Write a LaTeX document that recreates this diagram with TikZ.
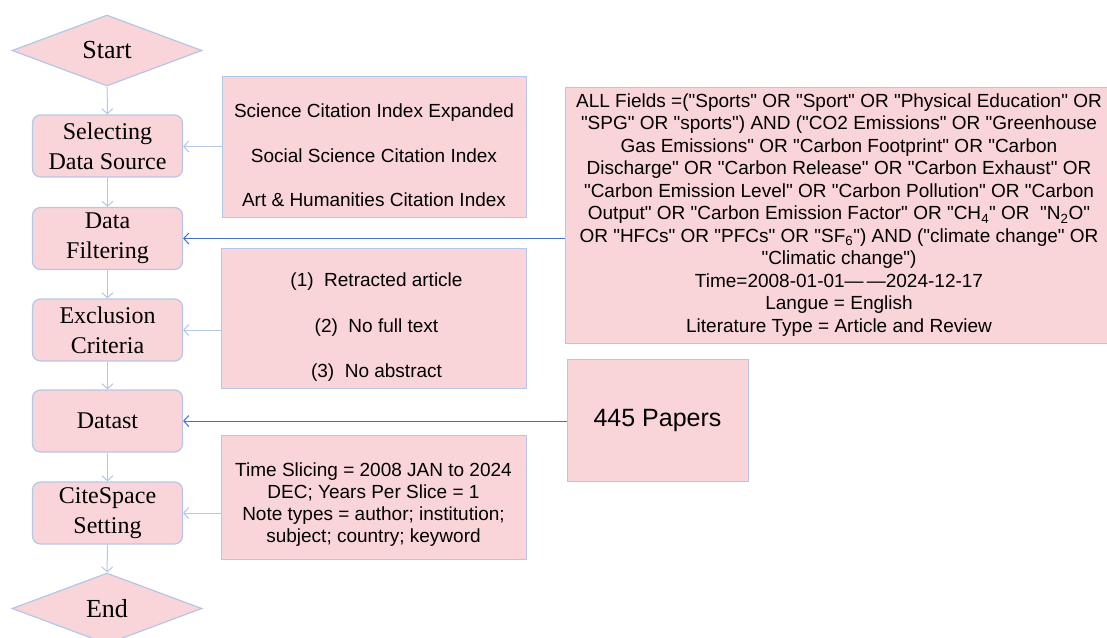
\documentclass[tikz,border=0pt]{standalone}
\usepackage{fontspec}
\setmainfont{Liberation Serif}
\setsansfont{Liberation Sans}
\usetikzlibrary{shapes.geometric,arrows.meta}
\definecolor{pinkfill}{HTML}{F9D4D8}
\definecolor{lightblue}{HTML}{B4C7E7}
\definecolor{darkblue}{HTML}{4472C4}
\newcommand{\qq}{\textquotedbl}
\begin{document}
\begin{tikzpicture}[x=1pt,y=-1pt,
  flowbox/.style={draw=lightblue, line width=1.2pt, fill=pinkfill, rounded corners=8pt,
    minimum width=150pt, minimum height=62pt, align=center, inner sep=0pt,
    font=\fontsize{24}{30}\selectfont},
  term/.style={diamond, draw=lightblue, line width=1.2pt, fill=pinkfill, inner sep=0pt,
    minimum width=190pt, minimum height=71pt, font=\fontsize{26}{30}\selectfont},
  sidebox/.style={draw=lightblue, line width=0.6pt, fill=pinkfill, inner sep=0pt},
  sidetext/.style={align=center, inner sep=0pt, font=\sffamily\fontsize{19}{22.5}\selectfont},
  lightarrow/.style={draw=lightblue, line width=1pt, -{Straight Barb[length=5pt,width=11pt]}},
  darkarrow/.style={draw=darkblue, line width=1pt, -{Straight Barb[length=5pt,width=11pt]}}
]
\useasboundingbox (0,0) rectangle (1107,637);

% left flow
\node[term] (start) at (107,50.5) {Start};
\node[flowbox] (sel) at (107.5,146) {Selecting\\Data Source};
\node[flowbox] (filt) at (107.5,238.5) {Data\\Filtering};
\node[flowbox] (excl) at (107.5,330) {Exclusion\\Criteria};
\node[flowbox] (dat) at (107.5,421) {Datast};
\node[flowbox] (cite) at (107.5,513) {CiteSpace\\Setting};
\node[term] (end) at (107,608.5) {End};

\draw[lightarrow] (start) -- (sel);
\draw[lightarrow] (sel) -- (filt);
\draw[lightarrow] (filt) -- (excl);
\draw[lightarrow] (excl) -- (dat);
\draw[lightarrow] (dat) -- (cite);
\draw[lightarrow] (cite) -- (end);

% side boxes
\node[sidebox, minimum width=304pt, minimum height=141pt] (src) at (374,146.5) {};
\node[sidetext, font=\sffamily\fontsize{19}{44.5}\selectfont] (srctext) at (374,155.5)
  {Science Citation Index Expanded\\Social Science Citation Index\\Art \& Humanities Citation Index};

\node[sidebox, minimum width=305pt, minimum height=140pt] (exbox) at (373.5,318) {};
\node[sidetext, font=\sffamily\fontsize{19}{45.5}\selectfont] (extext) at (376.5,327.5)
  {(1)\ \ Retracted article\\(2)\ \ No full text\\(3)\ \ No abstract};

\node[sidebox, minimum width=305pt, minimum height=124pt] (csbox) at (373.5,497) {};
\node[sidetext, font=\sffamily\fontsize{19}{22}\selectfont] (cstext) at (373.5,505)
  {Time Slicing = 2008 JAN to 2024\\DEC; Years Per Slice = 1\\Note types = author; institution;\\subject; country; keyword};

\node[sidebox, draw=lightblue, line width=1pt, minimum width=544pt, minimum height=256pt] (query) at (837,215) {};
\node[sidetext] (qtext) at (839,215)
  {ALL Fields =(\qq Sports\qq{} OR \qq Sport\qq{} OR \qq Physical Education\qq{} OR\\
   \qq SPG\qq{} OR \qq sports\qq) AND (\qq CO2 Emissions\qq{} OR \qq Greenhouse\\
   Gas Emissions\qq{} OR \qq Carbon Footprint\qq{} OR \qq Carbon\\
   Discharge\qq{} OR \qq Carbon Release\qq{} OR \qq Carbon Exhaust\qq{} OR\\
   \qq Carbon Emission Level\qq{} OR \qq Carbon Pollution\qq{} OR \qq Carbon\\
   Output\qq{} OR \qq Carbon Emission Factor\qq{} OR \qq CH\textsubscript{4}\qq{} OR\ \ \qq N\textsubscript{2}O\qq\\
   OR \qq HFCs\qq{} OR \qq PFCs\qq{} OR \qq SF\textsubscript{6}\qq) AND (\qq climate change\qq{} OR\\
   \qq Climatic change\qq)\\
   Time=2008-01-01—\,—2024-12-17\\
   Langue = English\\
   Literature Type = Article and Review};

\node[sidebox, draw=lightblue, line width=1pt, minimum width=181pt, minimum height=122pt,
  font=\sffamily\fontsize{25}{30}\selectfont] (papers) at (657.5,420) {445 Papers};

% side connectors
\draw[lightarrow] (src.west) -- (src.west -| sel.east);
\draw[darkarrow] (query.west |- filt.east) -- (filt.east);
\draw[lightarrow] (exbox.west |- excl.east) -- (excl.east);
\draw[darkarrow] (papers.west |- dat.east) -- (dat.east);
\draw[lightarrow] (csbox.west |- cite.east) -- (cite.east);
\end{tikzpicture}
\end{document}
